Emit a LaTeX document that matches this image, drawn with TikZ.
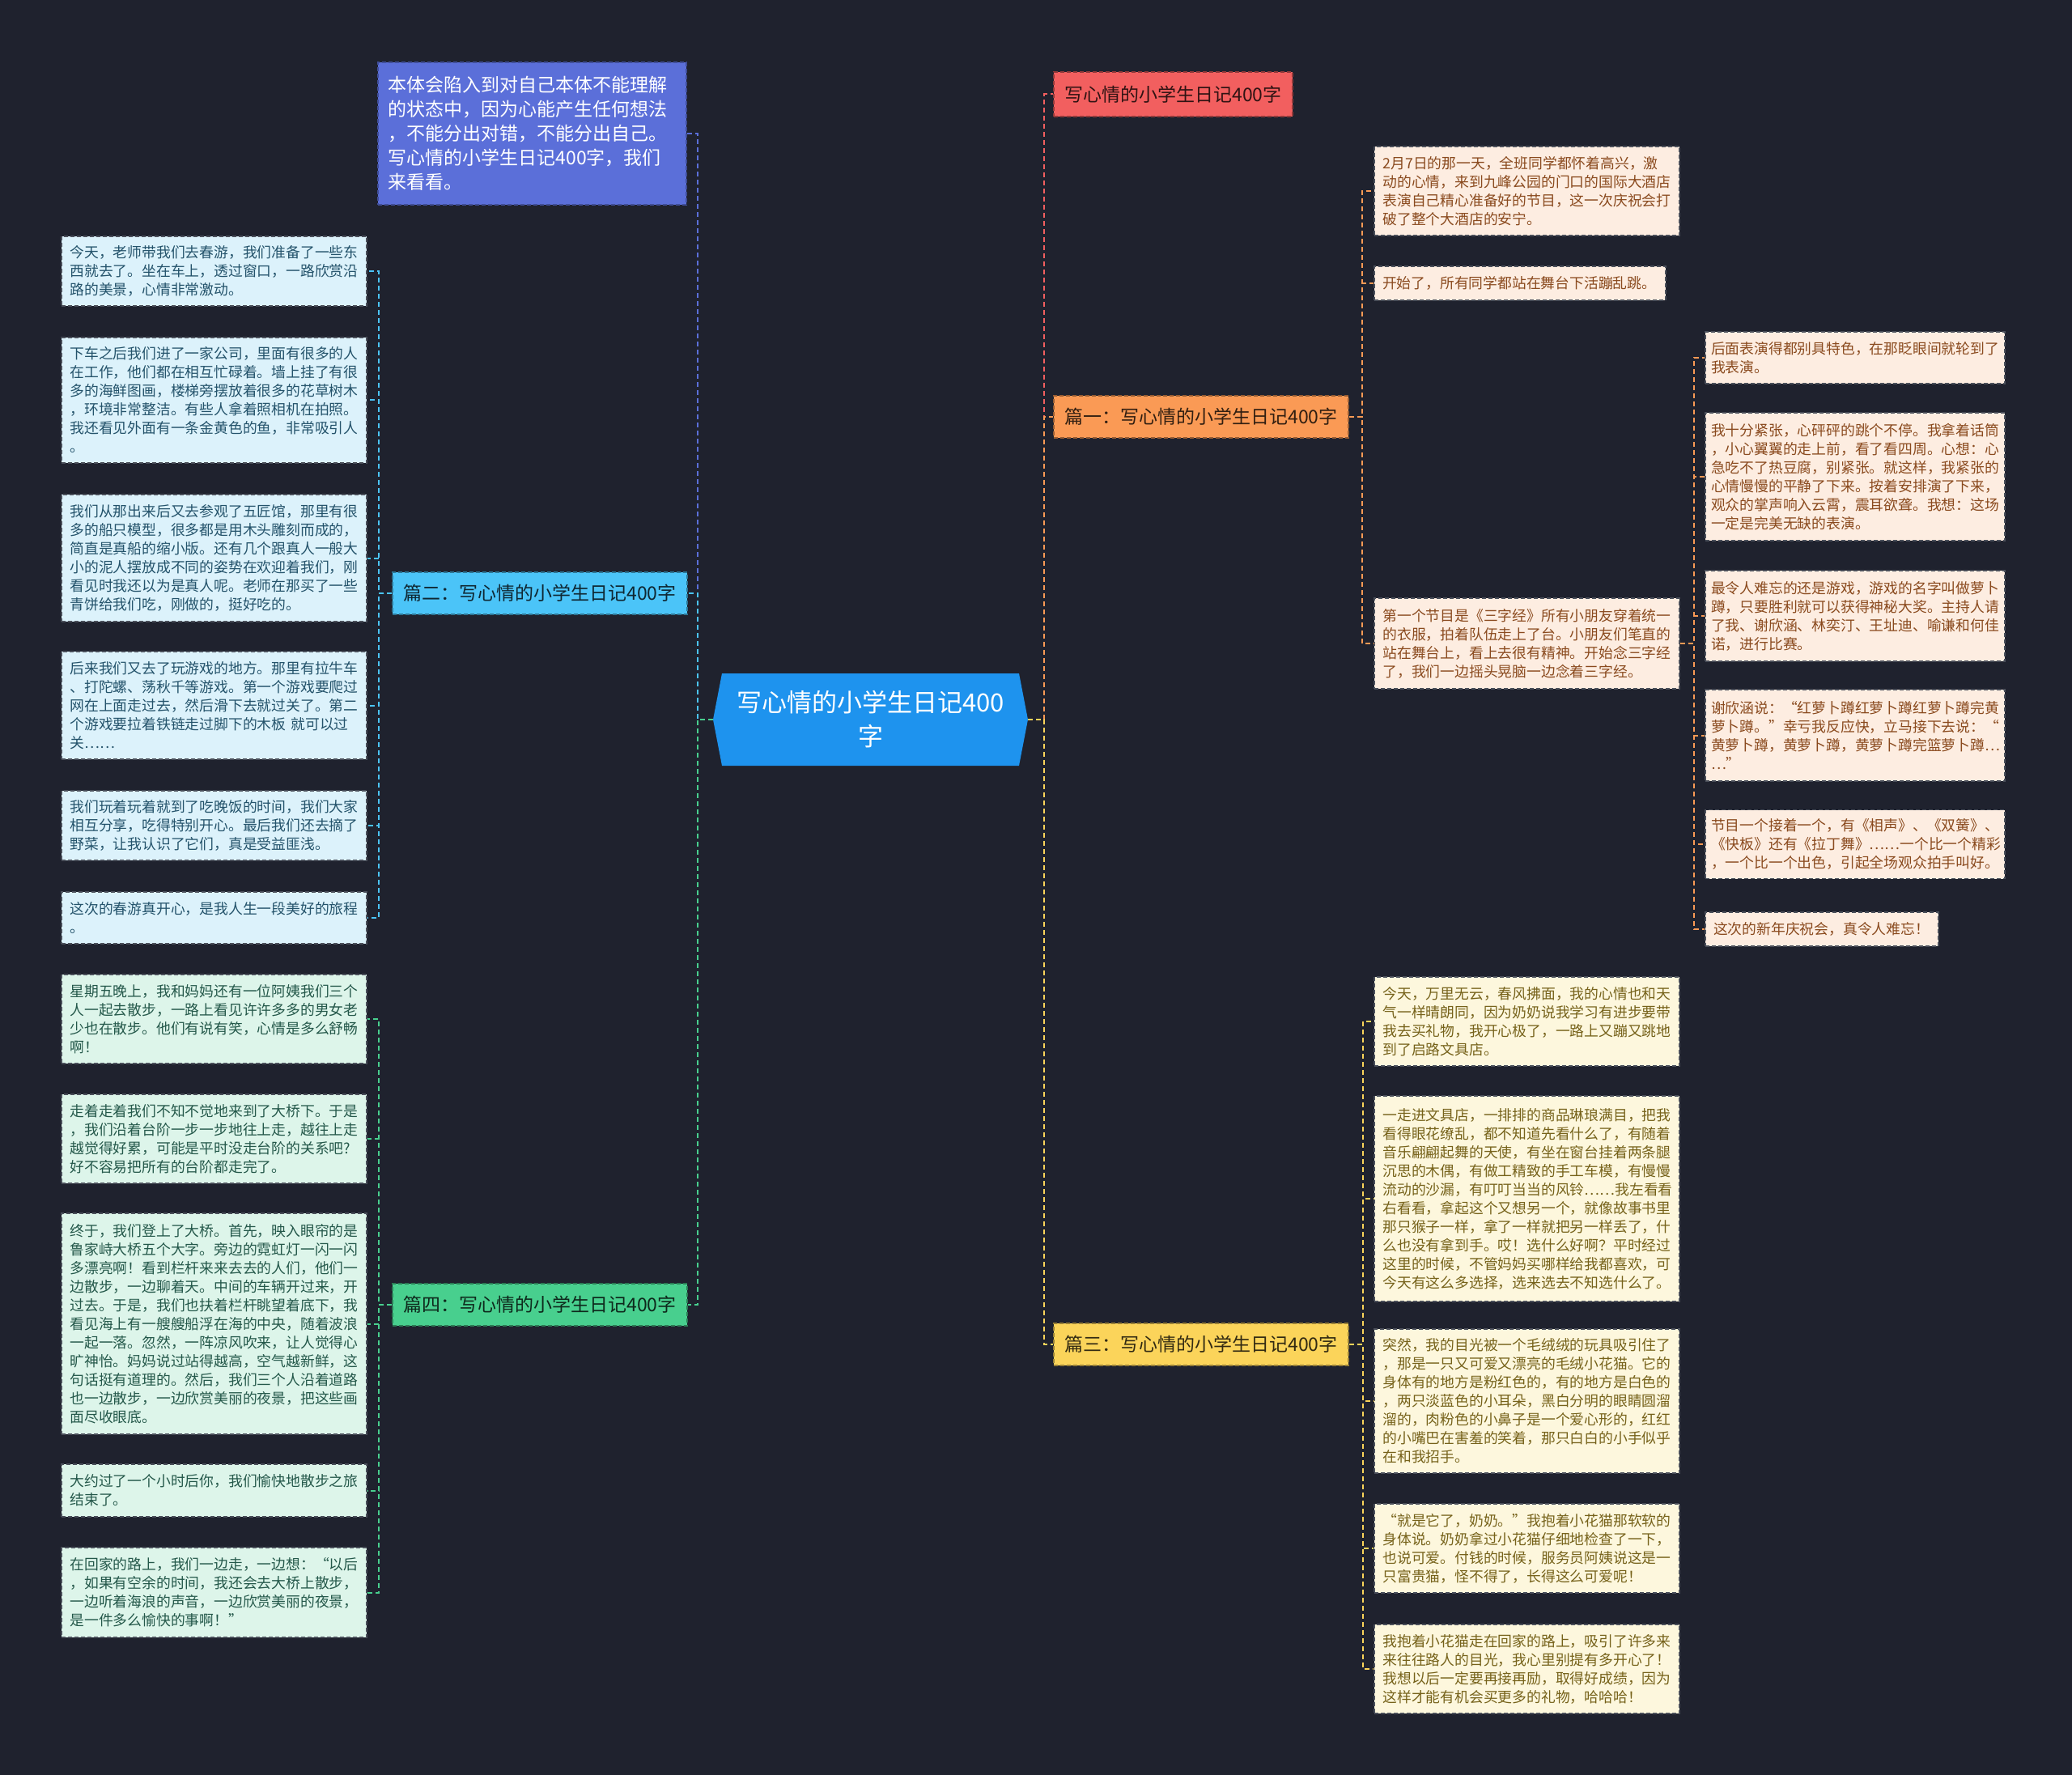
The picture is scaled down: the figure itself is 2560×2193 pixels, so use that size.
\documentclass[tikz,border=0pt]{standalone}
\usepackage{fontspec}
\setmainfont{Noto Sans CJK SC}
\definecolor{bg}{HTML}{1F222E}
\definecolor{cblue}{HTML}{1E93EE}
\definecolor{sumblue}{HTML}{5B6FD9}
\definecolor{cyanb}{HTML}{4BC4F8}
\definecolor{greenb}{HTML}{48CF8E}
\definecolor{redb}{HTML}{F25F5F}
\definecolor{orangeb}{HTML}{FA9A55}
\definecolor{yellowb}{HTML}{FBD45A}
\definecolor{bfill}{HTML}{DCF2FB}
\definecolor{gfill}{HTML}{DDF5EA}
\definecolor{ofill}{HTML}{FDEDE1}
\definecolor{yfill}{HTML}{FDF7DD}
\definecolor{btext}{HTML}{24536B}
\definecolor{gtext}{HTML}{24584A}
\definecolor{otext}{HTML}{8A4A1E}
\definecolor{ytext}{HTML}{76621A}
\definecolor{leafborder}{HTML}{4A4F5A}
\begin{document}
\begin{tikzpicture}[x=0.5pt,y=-0.5pt,
  leafbox/.style={rectangle, draw=leafborder, dash pattern=on 2.5pt off 1.5pt, line width=0.6pt,
    align=left, inner xsep=5.25pt, inner ysep=3pt, text width=178pt,
    font=\fontsize{8.9}{11.5}\selectfont},
  bleaf/.style={leafbox, fill=bfill, text=btext},
  gleaf/.style={leafbox, fill=gfill, text=gtext},
  oleaf/.style={leafbox, fill=ofill, text=otext},
  yleaf/.style={leafbox, fill=yfill, text=ytext},
  branchbox/.style={rectangle, dash pattern=on 2.5pt off 1.5pt, line width=0.6pt,
    minimum width=182pt, minimum height=26pt, inner sep=0pt,
    font=\fontsize{11.5}{14}\selectfont},
  conn/.style={line width=1pt, dash pattern=on 3pt off 2pt}
]
\fill[bg] (0,0) rectangle (2560,2193);
\useasboundingbox (0,0) rectangle (2560,2193);

% central node
\fill[cblue] (892,832) -- (881,889) -- (892,946) -- (1259,946) -- (1270,889) -- (1259,832) -- cycle;
\node[minimum width=194.5pt, minimum height=57pt, inner sep=0pt, align=center, text=white,
  font=\fontsize{15.5}{21}\selectfont] (c) at (1075.5,889) {写心情的小学生日记400\\字};

% branch nodes
\node[rectangle, fill=sumblue, draw=sumblue!70!black, dash pattern=on 2.5pt off 1.5pt, line width=0.6pt,
  text=white, align=left, text width=178pt, inner xsep=6.25pt, minimum height=88pt,
  font=\fontsize{11.5}{15}\selectfont] (sum) at (657.5,165)
  {本体会陷入到对自己本体不能理解\\的状态中，因为心能产生任何想法\\，不能分出对错，不能分出自己。\\写心情的小学生日记400字，我们\\来看看。};
\node[branchbox, fill=cyanb, draw=cyanb!60!black, text=black!80!cyanb] (p2) at (667,733) {篇二：写心情的小学生日记400字};
\node[branchbox, fill=greenb, draw=greenb!60!black, text=black!80!greenb] (p4) at (667,1612) {篇四：写心情的小学生日记400字};
\node[branchbox, fill=redb, draw=redb!60!black, text=black!80!redb, minimum width=147.5pt, minimum height=27.5pt] (top) at (1449.5,116.5) {写心情的小学生日记400字};
\node[branchbox, fill=orangeb, draw=orangeb!60!black, text=black!80!orangeb] (p1) at (1484,515) {篇一：写心情的小学生日记400字};
\node[branchbox, fill=yellowb, draw=yellowb!60!black, text=black!80!yellowb] (p3) at (1484,1661) {篇三：写心情的小学生日记400字};

% left leaves (篇二)
\node[bleaf, minimum height=43pt] (L1) at (264.5,335) {今天，老师带我们去春游，我们准备了一些东\\西就去了。坐在车上，透过窗口，一路欣赏沿\\路的美景，心情非常激动。};
\node[bleaf, minimum height=77.5pt] (L2) at (264.5,494.5) {下车之后我们进了一家公司，里面有很多的人\\在工作，他们都在相互忙碌着。墙上挂了有很\\多的海鲜图画，楼梯旁摆放着很多的花草树木\\，环境非常整洁。有些人拿着照相机在拍照。\\我还看见外面有一条金黄色的鱼，非常吸引人\\。};
\node[bleaf, minimum height=78.5pt] (L3) at (264.5,689.5) {我们从那出来后又去参观了五匠馆，那里有很\\多的船只模型，很多都是用木头雕刻而成的，\\简直是真船的缩小版。还有几个跟真人一般大\\小的泥人摆放成不同的姿势在欢迎着我们，刚\\看见时我还以为是真人呢。老师在那买了一些\\青饼给我们吃，刚做的，挺好吃的。};
\node[bleaf, minimum height=66.5pt] (L4) at (264.5,871.5) {后来我们又去了玩游戏的地方。那里有拉牛车\\、打陀螺、荡秋千等游戏。第一个游戏要爬过\\网在上面走过去，然后滑下去就过关了。第二\\个游戏要拉着铁链走过脚下的木板 就可以过\\关……};
\node[bleaf, minimum height=43pt] (L5) at (264.5,1020) {我们玩着玩着就到了吃晚饭的时间，我们大家\\相互分享，吃得特别开心。最后我们还去摘了\\野菜，让我认识了它们，真是受益匪浅。};
\node[bleaf, minimum height=32pt] (L6) at (264.5,1134) {这次的春游真开心，是我人生一段美好的旅程\\。};

% left leaves (篇四)
\node[gleaf, minimum height=55pt] (G1) at (264.5,1259) {星期五晚上，我和妈妈还有一位阿姨我们三个\\人一起去散步，一路上看见许许多多的男女老\\少也在散步。他们有说有笑，心情是多么舒畅\\啊！};
\node[gleaf, minimum height=55pt] (G2) at (264.5,1407) {走着走着我们不知不觉地来到了大桥下。于是\\，我们沿着台阶一步一步地往上走，越往上走\\越觉得好累，可能是平时没走台阶的关系吧?\\好不容易把所有的台阶都走完了。};
\node[gleaf, minimum height=136.5pt] (G3) at (264.5,1635.5) {终于，我们登上了大桥。首先，映入眼帘的是\\鲁家峙大桥五个大字。旁边的霓虹灯一闪一闪\\多漂亮啊！看到栏杆来来去去的人们，他们一\\边散步，一边聊着天。中间的车辆开过来，开\\过去。于是，我们也扶着栏杆眺望着底下，我\\看见海上有一艘艘船浮在海的中央，随着波浪\\一起一落。忽然，一阵凉风吹来，让人觉得心\\旷神怡。妈妈说过站得越高，空气越新鲜，这\\句话挺有道理的。然后，我们三个人沿着道路\\也一边散步，一边欣赏美丽的夜景，把这些画\\面尽收眼底。};
\node[gleaf, minimum height=32.5pt] (G4) at (264.5,1841.5) {大约过了一个小时后你，我们愉快地散步之旅\\结束了。};
\node[gleaf, minimum height=55.5pt] (G5) at (264.5,1967.5) {在回家的路上，我们一边走，一边想：“以后\\，如果有空余的时间，我还会去大桥上散步，\\一边听着海浪的声音，一边欣赏美丽的夜景，\\是一件多么愉快的事啊！”};

% right leaves (篇一)
\node[oleaf, minimum height=55pt] (R1) at (1886.5,236) {2月7日的那一天，全班同学都怀着高兴，激\\动的心情，来到九峰公园的门口的国际大酒店\\表演自己精心准备好的节目，这一次庆祝会打\\破了整个大酒店的安宁。};
\node[oleaf, minimum height=21pt, text width=170pt, inner xsep=5pt] (R2) at (1878,350) {开始了，所有同学都站在舞台下活蹦乱跳。};
\node[oleaf, minimum height=56pt] (R3) at (1886.5,795) {第一个节目是《三字经》所有小朋友穿着统一\\的衣服，拍着队伍走上了台。小朋友们笔直的\\站在舞台上，看上去很有精神。开始念三字经\\了，我们一边摇头晃脑一边念着三字经。};

% far right leaves
\node[oleaf, minimum height=32pt, inner xsep=3.5pt] (F1) at (2292,442) {后面表演得都别具特色，在那眨眼间就轮到了\\我表演。};
\node[oleaf, minimum height=79pt, inner xsep=3.5pt] (F2) at (2292,589) {我十分紧张，心砰砰的跳个不停。我拿着话筒\\，小心翼翼的走上前，看了看四周。心想：心\\急吃不了热豆腐，别紧张。就这样，我紧张的\\心情慢慢的平静了下来。按着安排演了下来，\\观众的掌声响入云霄，震耳欲聋。我想：这场\\一定是完美无缺的表演。};
\node[oleaf, minimum height=56pt, inner xsep=3.5pt] (F3) at (2292,761) {最令人难忘的还是游戏，游戏的名字叫做萝卜\\蹲，只要胜利就可以获得神秘大奖。主持人请\\了我、谢欣涵、林奕汀、王址迪、喻谦和何佳\\诺，进行比赛。};
\node[oleaf, minimum height=56.5pt, inner xsep=3.5pt] (F4) at (2292,908.5) {谢欣涵说：“红萝卜蹲红萝卜蹲红萝卜蹲完黄\\萝卜蹲。”幸亏我反应快，立马接下去说：“\\黄萝卜蹲，黄萝卜蹲，黄萝卜蹲完篮萝卜蹲…\\…”};
\node[oleaf, minimum height=42.5pt, inner xsep=3.5pt] (F5) at (2292,1043) {节目一个接着一个，有《相声》、《双簧》、\\《快板》还有《拉丁舞》……一个比一个精彩\\，一个比一个出色，引起全场观众拍手叫好。};
\node[oleaf, minimum height=21pt, text width=134pt, inner xsep=5pt] (F6) at (2251,1148) {这次的新年庆祝会，真令人难忘！};

% right leaves (篇三)
\node[yleaf, minimum height=55pt] (Y1) at (1886.5,1262) {今天，万里无云，春风拂面，我的心情也和天\\气一样晴朗同，因为奶奶说我学习有进步要带\\我去买礼物，我开心极了，一路上又蹦又跳地\\到了启路文具店。};
\node[yleaf, minimum height=127pt] (Y2) at (1886.5,1481) {一走进文具店，一排排的商品琳琅满目，把我\\看得眼花缭乱，都不知道先看什么了，有随着\\音乐翩翩起舞的天使，有坐在窗台挂着两条腿\\沉思的木偶，有做工精致的手工车模，有慢慢\\流动的沙漏，有叮叮当当的风铃……我左看看\\右看看，拿起这个又想另一个，就像故事书里\\那只猴子一样，拿了一样就把另一样丢了，什\\么也没有拿到手。哎！选什么好啊？平时经过\\这里的时候，不管妈妈买哪样给我都喜欢，可\\今天有这么多选择，选来选去不知选什么了。};
\node[yleaf, minimum height=89pt] (Y3) at (1886.5,1731) {突然，我的目光被一个毛绒绒的玩具吸引住了\\，那是一只又可爱又漂亮的毛绒小花猫。它的\\身体有的地方是粉红色的，有的地方是白色的\\，两只淡蓝色的小耳朵，黑白分明的眼睛圆溜\\溜的，肉粉色的小鼻子是一个爱心形的，红红\\的小嘴巴在害羞的笑着，那只白白的小手似乎\\在和我招手。};
\node[yleaf, minimum height=55pt] (Y4) at (1886.5,1913) {“就是它了，奶奶。”我抱着小花猫那软软的\\身体说。奶奶拿过小花猫仔细地检查了一下，\\也说可爱。付钱的时候，服务员阿姨说这是一\\只富贵猫，怪不得了，长得这么可爱呢！};
\node[yleaf, minimum height=55pt] (Y5) at (1886.5,2062) {我抱着小花猫走在回家的路上，吸引了许多来\\来往往路人的目光，我心里别提有多开心了！\\我想以后一定要再接再励，取得好成绩，因为\\这样才能有机会买更多的礼物，哈哈哈！};

% connectors from centre
\draw[conn, sumblue] (c.west) -- ++(-19,0) |- (sum.east);
\draw[conn, cyanb] (c.west) -- ++(-19,0) |- (p2.east);
\draw[conn, greenb] (c.west) -- ++(-19,0) |- (p4.east);
\draw[conn, redb] (c.east) -- ++(20,0) |- (top.west);
\draw[conn, orangeb] (c.east) -- ++(20,0) |- (p1.west);
\draw[conn, yellowb] (c.east) -- ++(20,0) |- (p3.west);

% sub connectors
\foreach \n in {L1,L2,L3,L4,L5,L6}
  \draw[conn, cyanb] (p2.west) -- ++(-16,0) |- (\n.east);
\foreach \n in {G1,G2,G3,G4,G5}
  \draw[conn, greenb] (p4.west) -- ++(-16,0) |- (\n.east);
\foreach \n in {R1,R2,R3}
  \draw[conn, orangeb] (p1.east) -- ++(16,0) |- (\n.west);
\foreach \n in {F1,F2,F3,F4,F5,F6}
  \draw[conn, orangeb] (R3.east) -- ++(17,0) |- (\n.west);
\foreach \n in {Y1,Y2,Y3,Y4,Y5}
  \draw[conn, yellowb] (p3.east) -- ++(17,0) |- (\n.west);
\end{tikzpicture}
\end{document}
